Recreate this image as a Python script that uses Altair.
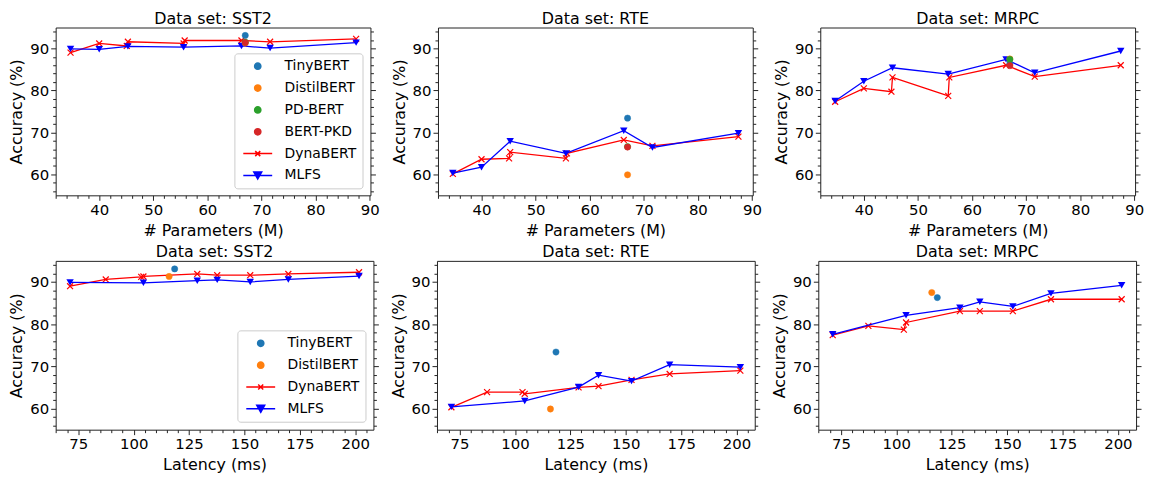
import altair as alt
import pandas as pd

# ---------------- data ----------------
datasets = ["SST2", "RTE", "MRPC"]
baseline_names = ["TinyBERT", "DistilBERT", "PD-BERT", "BERT-PKD"]
baseline_colors = ["#1f77b4", "#ff7f0e", "#2ca02c", "#d62728"]

# Row 1: accuracy vs. number of parameters (M)
dyna_params = [34.7, 40.0, 45.1, 45.3, 55.6, 55.8, 66.3, 71.6, 87.5]
mlfs_params = [34.7, 40.0, 45.3, 55.6, 66.3, 71.6, 87.5]
baseline_params = [67.0, 67.0, 67.0, 67.0]

dyna_params_sst2 = [89.0, 91.2, 90.6, 91.6, 91.2, 91.9, 91.9, 91.6, 92.3]
dyna_params_rte = [60.1, 63.6, 63.8, 65.3, 63.8, 65.0, 68.2, 66.8, 69.0]
dyna_params_mrpc = [77.3, 80.5, 79.7, 83.1, 78.7, 83.1, 86.0, 83.3, 86.0]

mlfs_params_sst2 = [89.9, 89.8, 90.5, 90.3, 90.6, 90.1, 91.4]
mlfs_params_rte = [60.3, 61.7, 67.9, 65.0, 70.4, 66.4, 69.8]
mlfs_params_mrpc = [77.5, 82.2, 85.4, 83.9, 87.4, 84.2, 89.4]

base_params_sst2 = [93.1, 91.3, 91.5, 91.4]
base_params_rte = [73.4, 59.9, 66.6, 66.5]
base_params_mrpc = [86.3, 87.5, 87.4, 85.9]

# Row 2: accuracy vs. latency (ms)
dyna_latency = [71.3, 87.4, 103.4, 104.4, 128.7, 137.7, 152.6, 169.8, 201.7]
mlfs_latency = [71.3, 104.4, 128.7, 137.7, 152.6, 169.8, 201.7]
baseline_latency = [118.5, 116.0]

dyna_lat_sst2 = [89.0, 90.6, 91.2, 91.3, 91.9, 91.6, 91.6, 91.9, 92.3]
dyna_lat_rte = [60.3, 63.9, 63.9, 63.5, 65.0, 65.3, 66.8, 68.2, 69.0]
dyna_lat_mrpc = [77.4, 79.6, 78.7, 80.4, 83.1, 83.1, 83.1, 85.9, 85.9]

mlfs_lat_sst2 = [89.9, 89.8, 90.3, 90.5, 90.0, 90.6, 91.4]
mlfs_lat_rte = [60.4, 61.8, 65.1, 67.9, 66.5, 70.4, 69.8]
mlfs_lat_mrpc = [77.6, 82.1, 83.9, 85.3, 84.2, 87.3, 89.2]

base_lat_sst2 = [93.1, 91.3]
base_lat_rte = [73.4, 59.9]
base_lat_mrpc = [86.3, 87.5]

# ---------------- axes ----------------
y_domain = [55, 95]
y_major = [60, 70, 80, 90]
y_minor = [v for v in range(56, 95, 2) if v % 10 != 0]

row_cfg = [
    dict(dom=[31.95, 90.15], major=[40, 50, 60, 70, 80, 90],
         minor=[v for v in range(32, 91, 2) if v % 10 != 0],
         title="# Parameters (M)", width=317, height=169, leg_h=135),
    dict(dom=[64.8, 208.2], major=[75, 100, 125, 150, 175, 200],
         minor=[v for v in range(65, 209, 5) if v % 25 != 0],
         title="Latency (ms)", width=320, height=170, leg_h=92),
]

X_PATH = "M-1,-1L1,1M-1,1L1,-1"
LEG_X = "M-4.6,0H4.6M-0.8,-0.8L0.8,0.8M-0.8,0.8L0.8,-0.8"
LEG_V = "M-4.6,0H4.6M0,1.1L1.26,-1.1L-1.26,-1.1Z"
LEG_W = 129

row_data = [
    dict(dx=dyna_params, mx=mlfs_params, bx=baseline_params,
         dy={"SST2": dyna_params_sst2, "RTE": dyna_params_rte, "MRPC": dyna_params_mrpc},
         my={"SST2": mlfs_params_sst2, "RTE": mlfs_params_rte, "MRPC": mlfs_params_mrpc},
         by={"SST2": base_params_sst2, "RTE": base_params_rte, "MRPC": base_params_mrpc},
         names=baseline_names),
    dict(dx=dyna_latency, mx=mlfs_latency, bx=baseline_latency,
         dy={"SST2": dyna_lat_sst2, "RTE": dyna_lat_rte, "MRPC": dyna_lat_mrpc},
         my={"SST2": mlfs_lat_sst2, "RTE": mlfs_lat_rte, "MRPC": mlfs_lat_mrpc},
         by={"SST2": base_lat_sst2, "RTE": base_lat_rte, "MRPC": base_lat_mrpc},
         names=baseline_names[:2]),
]


def make_panel(ds, row, show_legend):
    cfg = row_cfg[row]
    d = row_data[row]
    nb = len(d["names"])
    dyna_df = pd.DataFrame({"x": d["dx"], "y": d["dy"][ds], "i": list(range(len(d["dx"])))})
    mlfs_df = pd.DataFrame({"x": d["mx"], "y": d["my"][ds], "i": list(range(len(d["mx"])))})
    base_df = pd.DataFrame({"x": d["bx"], "y": d["by"][ds], "method": d["names"]})

    xs = alt.Scale(domain=cfg["dom"], nice=False, zero=False)
    ys = alt.Scale(domain=y_domain, nice=False, zero=False)

    ax_x_major = alt.Axis(values=cfg["major"], title=cfg["title"], tickSize=5,
                          orient="bottom", format="d", labelFlush=False)
    ax_x_minor = alt.Axis(values=cfg["minor"], title=None, labels=False, tickSize=3,
                          orient="bottom")
    ax_y_major = alt.Axis(values=y_major, title="Accuracy (%)", tickSize=5,
                          orient="left", format="d")
    ax_y_minor = alt.Axis(values=y_minor, title=None, labels=False, tickSize=3, orient="left")
    ax_yr_major = alt.Axis(values=y_major, title=None, labels=False, tickSize=5, orient="right")
    ax_yr_minor = alt.Axis(values=y_minor, title=None, labels=False, tickSize=3, orient="right")

    leg_names = d["names"] + ["DynaBERT", "MLFS"]
    leg_colors = baseline_colors[:nb] + ["#ff0000", "#0000ff"]
    leg_shapes = ["circle"] * nb + [LEG_X, LEG_V]
    if show_legend:
        leg = alt.Legend(title=None, orient="none",
                         legendX=cfg["width"] - 8 - LEG_W,
                         legendY=cfg["height"] - 8 - cfg["leg_h"],
                         labelFontSize=14,
                         labelFont="DejaVu Sans", labelColor="black", symbolSize=40,
                         symbolStrokeWidth=1.5, symbolOffset=10.5, labelOffset=20,
                         rowPadding=8, padding=6, strokeColor="#cccccc",
                         fillColor="rgba(255,255,255,0.8)", cornerRadius=3)
    else:
        leg = None

    dyna_line = alt.Chart(dyna_df).mark_line(color="#ff0000", strokeWidth=1.3).encode(
        x=alt.X("x:Q", scale=xs, axis=ax_x_major),
        y=alt.Y("y:Q", scale=ys, axis=ax_y_major),
        order=alt.Order("i:Q"),
    )
    dyna_pts = alt.Chart(dyna_df).mark_point(shape=X_PATH, color="#ff0000", size=36,
                                             strokeWidth=1.2, opacity=1).encode(
        x=alt.X("x:Q", scale=xs, axis=ax_x_minor),
        y=alt.Y("y:Q", scale=ys, axis=ax_y_minor),
    )
    mlfs_line = alt.Chart(mlfs_df).mark_line(color="#0000ff", strokeWidth=1.3).encode(
        x=alt.X("x:Q", scale=xs, axis=None),
        y=alt.Y("y:Q", scale=ys, axis=ax_yr_major),
        order=alt.Order("i:Q"),
    )
    mlfs_pts = alt.Chart(mlfs_df).mark_point(shape="triangle-down", filled=True,
                                             color="#0000ff", size=56, opacity=1).encode(
        x=alt.X("x:Q", scale=xs, axis=None),
        y=alt.Y("y:Q", scale=ys, axis=ax_yr_minor),
    )
    base_pts = alt.Chart(base_df).mark_point(filled=True, size=40, strokeWidth=0.5,
                                             opacity=1).encode(
        x=alt.X("x:Q", scale=xs, axis=None),
        y=alt.Y("y:Q", scale=ys, axis=None),
        fill=alt.Fill("method:N", scale=alt.Scale(domain=leg_names, range=leg_colors), legend=leg),
        stroke=alt.Stroke("method:N", scale=alt.Scale(domain=leg_names, range=leg_colors), legend=leg),
        shape=alt.Shape("method:N", scale=alt.Scale(domain=leg_names, range=leg_shapes), legend=leg),
    )
    return alt.layer(dyna_line, dyna_pts, mlfs_line, mlfs_pts, base_pts).resolve_axis(
        x="independent", y="independent"
    ).properties(
        width=cfg["width"], height=cfg["height"],
        title=alt.TitleParams(f"Data set: {ds}"),
    )


rows = []
for r in range(2):
    panels = [make_panel(ds, r, k == 0) for k, ds in enumerate(datasets)]
    rows.append(alt.hconcat(*panels, spacing=10).resolve_scale(
        fill="independent", stroke="independent", shape="independent"))

chart = alt.vconcat(*rows, spacing=4).resolve_scale(
    fill="independent", stroke="independent", shape="independent"
).properties(
    padding={"left": 0, "top": 0, "right": 0, "bottom": 0}
).configure(font="DejaVu Sans").configure_view(
    stroke="#222222", strokeWidth=1
).configure_axis(
    labelFont="DejaVu Sans", titleFont="DejaVu Sans", labelFontSize=15, titleFontSize=16,
    titleFontWeight="normal", labelColor="black", titleColor="black",
    tickColor="#222222", tickWidth=1, grid=False, domain=False,
    labelPadding=2, titlePadding=5,
).configure_title(
    font="DejaVu Sans", fontSize=16, fontWeight="normal", color="black", offset=1
)

chart.save("out.html", embed_options={"renderer": "svg", "actions": False})
